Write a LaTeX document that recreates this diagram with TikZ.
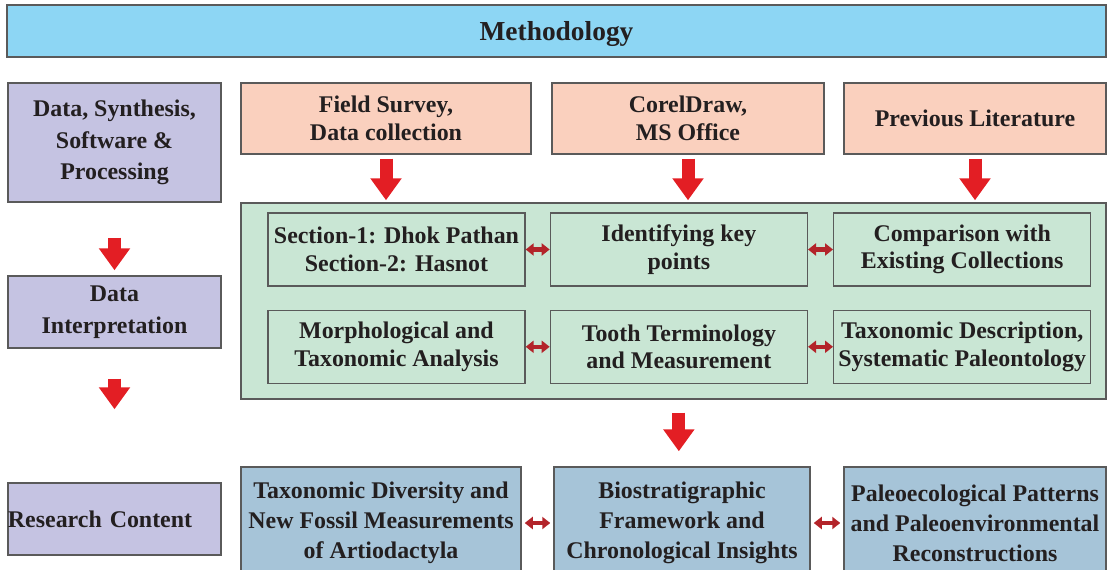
\documentclass[tikz,border=0pt]{standalone}
\usepackage{fontspec}
\setmainfont{Liberation Serif}
\usetikzlibrary{arrows.meta, positioning}
\definecolor{barblue}{HTML}{8DD6F4}
\definecolor{lilac}{HTML}{C5C3E2}
\definecolor{peach}{HTML}{FAD0BE}
\definecolor{mint}{HTML}{C9E6D4}
\definecolor{steel}{HTML}{A6C4D8}
\definecolor{edge}{HTML}{5A5A5A}
\definecolor{ink}{HTML}{231F20}
\definecolor{alarm}{HTML}{E31E24}
\definecolor{wine}{HTML}{B3242A}

\begin{document}
\begin{tikzpicture}[
        x=0.025cm, y=-0.025cm,
        every node/.style={font=\bfseries\fontsize{17}{19.5}\selectfont, text=ink, align=center, inner sep=0pt},
        head/.style={rectangle, draw=edge, fill=barblue, line width=1pt, minimum width=27.475cm, minimum height=1.3cm, text depth=0pt, font=\bfseries\fontsize{19.5}{22}\selectfont},
        side/.style={rectangle, draw=edge, fill=lilac, line width=1pt, minimum width=5.325cm, font=\bfseries\fontsize{17}{22.5}\selectfont},
        src/.style={rectangle, draw=edge, fill=peach, line width=1pt, minimum height=1.775cm},
        panel/.style={rectangle, draw=edge, fill=mint, line width=1pt, minimum width=21.625cm, minimum height=4.9cm},
        item/.style={rectangle, draw=edge, fill=mint, line width=0.9pt, minimum width=6.425cm, minimum height=1.825cm},
        result/.style={rectangle, draw=edge, fill=steel, line width=1pt, minimum height=2.8cm, font=\bfseries\fontsize{17}{21.3}\selectfont},
        bigarrow/.style={-{Triangle[width=0.75cm, length=0.55cm]}, line width=0.325cm, alarm},
        duo/.style={{Triangle[width=0.3cm, length=0.2cm]}-{Triangle[width=0.3cm, length=0.2cm]}, line width=0.1cm, wine}
    ]
        \useasboundingbox (0,0) rectangle (1108,570);

        % Title bar
        \node[head] (meth) at (556.5,31) {Methodology};

        % Left column
        \node[side, minimum height=2.975cm] (synth) at (114.5,142.5) {Data, Synthesis,\\Software \&\\Processing};
        \node[side, minimum height=1.8cm] (interp) at (114.5,312) {Data\\Interpretation};
        \node[side, minimum height=1.8cm, text width=5.325cm, align=left] (content) at (114.5,519) {Research Content};

        \draw[bigarrow, shorten <=0.875cm, shorten >=0.125cm] (synth.south) -- (interp.north);
        \draw[bigarrow, shorten <=0.75cm, shorten >=1.825cm] (interp.south) -- (content.north);

        % Sources
        \node[src, minimum width=7.25cm] (field) at (386,118.5) {Field Survey,\\Data collection};
        \node[src, minimum width=6.8cm] (corel) at (688,118.5) {CorelDraw,\\MS Office};
        \node[src, minimum width=6.55cm] (lit) at (975,118.5) {Previous Literature};

        % Analysis panel
        \node[panel] (panel) at (673.5,301) {};
        \node[item] (sect) at (396.5,249.5) {Section-1: Dhok Pathan\\Section-2: Hasnot};
        \node[item, right=0.6cm of sect] (key) {Identifying key\\points};
        \node[item, right=0.625cm of key] (comp) {Comparison with\\Existing Collections};
        \node[item, below=0.575cm of sect] (morph) {Morphological and\\Taxonomic Analysis};
        \node[item, right=0.6cm of morph] (tooth) {Tooth Terminology\\and Measurement};
        \node[item, right=0.625cm of tooth] (desc) {Taxonomic Description,\\Systematic Paleontology};

        \draw[bigarrow, shorten <=0.1cm, shorten >=0.05cm] (field.south) -- (field.south |- panel.north);
        \draw[bigarrow, shorten <=0.1cm, shorten >=0.05cm] (corel.south) -- (corel.south |- panel.north);
        \draw[bigarrow, shorten <=0.1cm, shorten >=0.05cm] (lit.south) -- (lit.south |- panel.north);

        \draw[duo] (sect) -- (key);
        \draw[duo] (key) -- (comp);
        \draw[duo] (morph) -- (tooth);
        \draw[duo] (tooth) -- (desc);

        % Research content
        \node[result, minimum width=7cm] (div) at (381,523) {Taxonomic Diversity and\\New Fossil Measurements\\of Artiodactyla};
        \node[result, minimum width=6.4cm] (bio) at (682,523) {Biostratigraphic\\Framework and\\Chronological Insights};
        \node[result, minimum width=6.55cm] (eco) at (975,523) {Paleoecological Patterns\\and Paleoenvironmental\\Reconstructions};

        \draw[bigarrow, shorten <=0.325cm, shorten >=0.375cm] (key |- panel.south) -- (key |- bio.north);
        \draw[duo, shorten <=0.075cm, shorten >=0.075cm] (div) -- (bio);
        \draw[duo, shorten <=0.075cm, shorten >=0.075cm] (bio) -- (eco);
\end{tikzpicture}
\end{document}
